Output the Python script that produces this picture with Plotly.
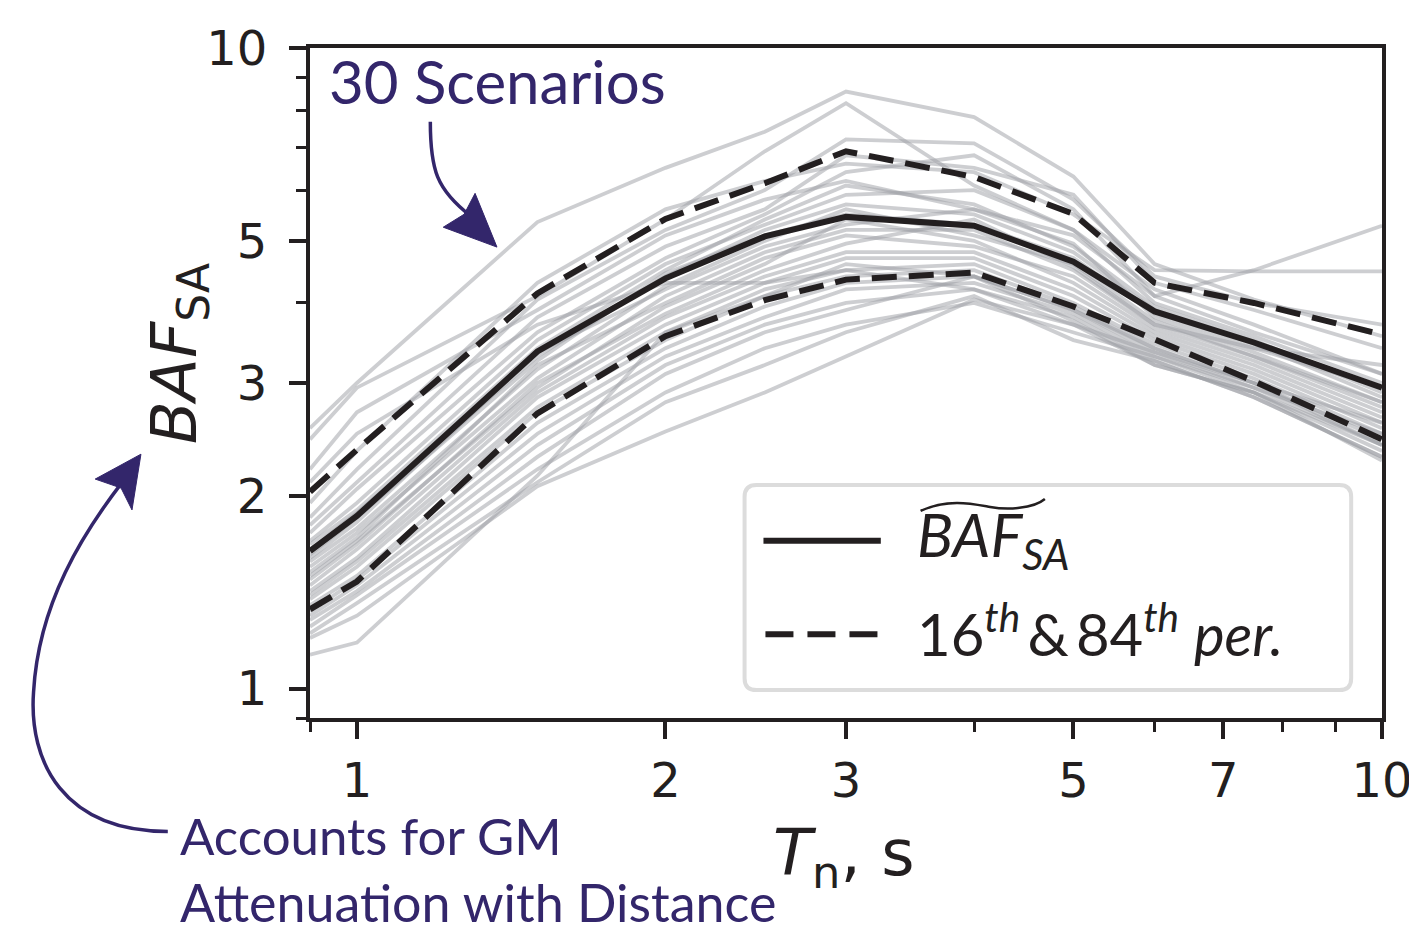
import plotly.graph_objects as go

# ---------------- data ----------------
periods = [0.9, 1, 1.5, 2, 2.5, 3, 4, 5, 6, 7.5, 10]

scenarios = [
    [2.55, 3.00, 5.35, 6.50, 7.40, 8.55, 7.80, 6.30, 4.60, 4.05, 3.55],
    [2.45, 2.95, 4.10, 5.40, 6.90, 8.20, 6.10, 5.20, 4.20, 3.70, 3.10],
    [2.20, 2.70, 3.90, 5.10, 5.80, 6.20, 5.60, 5.10, 4.10, 4.50, 5.28],
    [1.95, 2.35, 4.30, 5.60, 6.20, 6.60, 6.40, 5.50, 4.50, 4.48, 4.48],
    [1.85, 2.20, 4.05, 5.20, 6.00, 7.20, 7.10, 5.80, 4.40, 4.00, 3.70],
    [1.80, 2.10, 3.80, 4.90, 5.60, 6.80, 6.50, 5.90, 4.30, 3.90, 3.40],
    [1.75, 2.05, 3.60, 4.70, 5.50, 6.40, 6.80, 5.60, 4.10, 3.60, 3.10],
    [1.70, 1.95, 3.50, 4.60, 5.30, 5.90, 6.00, 5.20, 4.00, 3.55, 3.00],
    [1.68, 1.90, 3.40, 4.50, 5.40, 6.10, 5.70, 4.90, 3.95, 3.50, 2.90],
    [1.65, 1.88, 3.30, 4.40, 5.20, 5.70, 5.50, 4.80, 3.90, 3.45, 2.85],
    [1.62, 1.85, 3.25, 4.45, 5.10, 5.50, 5.30, 4.70, 3.85, 3.40, 2.95],
    [1.60, 1.82, 3.35, 4.20, 4.90, 5.30, 5.60, 4.95, 3.80, 3.35, 2.80],
    [1.58, 1.78, 3.15, 4.25, 5.00, 5.60, 5.10, 4.60, 3.75, 3.30, 2.75],
    [1.55, 1.75, 3.05, 4.10, 4.80, 5.20, 5.20, 4.50, 3.70, 3.40, 3.20],
    [1.52, 1.72, 3.20, 4.00, 4.70, 5.10, 4.90, 4.40, 3.65, 3.25, 2.70],
    [1.50, 1.70, 2.95, 3.95, 4.60, 5.40, 5.00, 4.30, 3.60, 3.20, 2.65],
    [1.48, 1.68, 3.00, 3.85, 4.50, 4.95, 5.40, 4.55, 3.70, 3.30, 2.80],
    [1.45, 1.65, 2.90, 3.80, 4.40, 4.80, 4.80, 4.20, 3.55, 3.15, 2.60],
    [1.42, 1.60, 2.85, 3.70, 4.30, 4.70, 4.70, 4.10, 3.50, 3.10, 2.55],
    [1.40, 1.58, 2.75, 3.60, 4.20, 4.50, 4.60, 4.00, 3.45, 3.05, 2.50],
    [1.38, 1.55, 2.70, 3.50, 4.10, 4.40, 4.50, 3.95, 3.40, 3.00, 2.45],
    [1.35, 1.50, 2.60, 3.40, 3.95, 4.30, 4.40, 3.90, 3.35, 2.95, 2.40],
    [1.32, 1.48, 2.50, 3.30, 3.80, 4.20, 4.30, 3.85, 3.30, 2.90, 2.35],
    [1.30, 1.45, 2.40, 3.20, 3.70, 4.00, 4.20, 3.80, 3.25, 2.85, 2.30],
    [1.28, 1.42, 2.30, 3.10, 3.60, 3.90, 4.40, 3.75, 3.20, 2.90, 2.40],
    [1.25, 1.40, 2.20, 2.90, 3.40, 3.70, 4.00, 3.60, 3.30, 2.95, 2.50],
    [1.22, 1.36, 2.10, 2.80, 3.20, 3.60, 4.10, 3.50, 3.25, 2.85, 2.30],
    [1.20, 1.30, 2.07, 2.52, 2.90, 3.30, 4.05, 3.70, 3.35, 3.00, 2.60],
    [1.13, 1.18, 2.15, 3.60, 4.10, 4.60, 4.40, 3.90, 3.40, 3.00, 2.40],
    [2.10, 2.50, 3.70, 4.30, 4.30, 4.50, 4.20, 3.70, 3.20, 2.90, 2.27],
]

median = [1.64, 1.86, 3.36, 4.37, 5.08, 5.45, 5.28, 4.64, 3.88, 3.47, 2.95]
p84 = [2.03, 2.36, 4.14, 5.41, 6.15, 6.90, 6.29, 5.51, 4.30, 4.00, 3.57]
p16 = [1.33, 1.47, 2.69, 3.55, 4.04, 4.35, 4.46, 3.95, 3.51, 3.02, 2.45]

x_ticks = [1, 2, 3, 5, 7, 10]
x_minor = [0.9, 4, 6, 8, 9]
y_ticks = [1, 2, 3, 5, 10]
y_minor = [0.9, 4, 6, 7, 8, 9]

# ---------------- layout helpers ----------------
W, H = 1417, 938
L, R, T, B = 308, 1386, 43, 716       # target plot-area pixels
OX, OY = 6, 6                          # page offset compensation
INK = "#231f20"
PURPLE = "#33266b"


def px(x):
    return (x - L) / (R - L)


def py(y):
    return (B - y) / (B - T)


fig = go.Figure()

for s in scenarios:
    fig.add_trace(go.Scatter(x=periods, y=s, mode="lines",
                             line=dict(color="rgba(160,162,166,0.52)", width=3.8),
                             hoverinfo="skip", showlegend=False))

for band in (p84, p16):
    fig.add_trace(go.Scatter(x=periods, y=band, mode="lines",
                             line=dict(color=INK, width=6, dash="25px,12px"),
                             showlegend=False))
fig.add_trace(go.Scatter(x=periods, y=median, mode="lines",
                         line=dict(color=INK, width=6), showlegend=False))

tickfont = dict(family="DejaVu Sans", size=48, color=INK)
axis_common = dict(type="log", showgrid=False, zeroline=False, showline=True,
                   mirror=True, linecolor=INK, linewidth=4, ticks="outside",
                   ticklen=17, tickwidth=3.5, tickcolor=INK, tickfont=tickfont)

fig.update_xaxes(range=[-0.045757, 1.0], tickvals=x_ticks,
                 ticktext=[str(v) for v in x_ticks],
                 minor=dict(tickvals=x_minor, ticklen=10, tickwidth=3, tickcolor=INK,
                            ticks="outside"),
                 ticklabelstandoff=0, **axis_common)
fig.update_yaxes(range=[-0.045757, 1.0], tickvals=y_ticks,
                 ticktext=[str(v) for v in y_ticks],
                 minor=dict(tickvals=y_minor, ticklen=10, tickwidth=3, tickcolor=INK,
                            ticks="outside"),
                 ticklabelstandoff=12, **axis_common)

shapes = []
# legend box (rounded)
x0, y0, x1, y1, r = 745, 482, 1355, 688, 12
box = (f"M {px(x0+r)},{py(y0)} L {px(x1-r)},{py(y0)} "
       f"Q {px(x1)},{py(y0)} {px(x1)},{py(y0+r)} L {px(x1)},{py(y1-r)} "
       f"Q {px(x1)},{py(y1)} {px(x1-r)},{py(y1)} L {px(x0+r)},{py(y1)} "
       f"Q {px(x0)},{py(y1)} {px(x0)},{py(y1-r)} L {px(x0)},{py(y0+r)} "
       f"Q {px(x0)},{py(y0)} {px(x0+r)},{py(y0)} Z")
shapes.append(dict(type="path", xref="paper", yref="paper", path=box,
                   fillcolor="white", line=dict(color="#dcdcdc", width=4), layer="above"))
shapes.append(dict(type="line", xref="paper", yref="paper",
                   x0=px(764), x1=px(882), y0=py(538), y1=py(538),
                   line=dict(color=INK, width=6), layer="above"))
shapes.append(dict(type="line", xref="paper", yref="paper",
                   x0=px(766), x1=px(880), y0=py(632), y1=py(632),
                   line=dict(color=INK, width=6, dash="28px,14px"), layer="above"))
# wide tilde over BAF
tilde = (f"M {px(922)},{py(508)} C {px(950)},{py(495)} {px(975)},{py(501)} {px(992)},{py(504)} "
         f"S {px(1035)},{py(506)} {px(1047)},{py(496)}")
shapes.append(dict(type="path", xref="paper", yref="paper", path=tilde,
                   line=dict(color=INK, width=2.5), layer="above"))

# arrow 1: "30 Scenarios"
a1 = (f"M {px(429)},{py(117)} C {px(429)},{py(165)} {px(435)},{py(185)} {px(470)},{py(212)}")
shapes.append(dict(type="path", xref="paper", yref="paper", path=a1,
                   line=dict(color=PURPLE, width=3.5)))
h1 = f"M {px(496)},{py(243)} L {px(442)},{py(223)} L {px(463)},{py(210)} L {px(474)},{py(189)} Z"
shapes.append(dict(type="path", xref="paper", yref="paper", path=h1,
                   fillcolor=PURPLE, line=dict(color=PURPLE, width=1)))

# arrow 2: "Accounts for GM ..."
a2 = (f"M {px(165)},{py(830)} C {px(60)},{py(830)} {px(25)},{py(760)} {px(30)},{py(690)} "
      f"C {px(35)},{py(600)} {px(80)},{py(530)} {px(120)},{py(478)}")
shapes.append(dict(type="path", xref="paper", yref="paper", path=a2,
                   line=dict(color=PURPLE, width=3.5)))
h2 = f"M {px(138)},{py(451)} L {px(129)},{py(507)} L {px(118)},{py(485)} L {px(92)},{py(476)} Z"
shapes.append(dict(type="path", xref="paper", yref="paper", path=h2,
                   fillcolor=PURPLE, line=dict(color=PURPLE, width=1)))

annotations = [
    dict(text="30 Scenarios", x=px(325), y=py(76), xanchor="left", yanchor="middle",
         font=dict(family="Lato", size=60, color=PURPLE)),
    dict(text="Accounts for GM", x=px(175), y=py(834), xanchor="left", yanchor="middle",
         font=dict(family="Lato", size=51, color=PURPLE)),
    dict(text="Attenuation with Distance", x=px(175), y=py(901), xanchor="left",
         yanchor="middle", font=dict(family="Lato", size=52, color=PURPLE)),
    dict(text="<i>BAF</i><sub>SA</sub>", x=px(176), y=py(350), textangle=-90,
         xanchor="center", yanchor="middle",
         font=dict(family="DejaVu Sans", size=63, color=INK)),
    dict(text="<i>T</i><sub>n</sub>, s", x=px(845), y=py(856), xanchor="center",
         yanchor="middle", font=dict(family="DejaVu Sans", size=64, color=INK)),
    dict(text="<i>BAF</i><sub><i>SA</i></sub>", x=px(916), y=py(536), xanchor="left",
         yanchor="middle", font=dict(family="Lato", size=60, color=INK)),
    dict(text="16<sup><i>th</i></sup>\u2009&amp;\u200984<sup><i>th</i></sup> <i>per.</i>",
         x=px(916), y=py(628), xanchor="left", yanchor="middle",
         font=dict(family="Lato", size=58, color=INK)),
]
for a in annotations:
    a.update(xref="paper", yref="paper", showarrow=False)

fig.update_layout(width=W, height=H,
                  margin=dict(l=L - OX, r=W - (R - OX), t=T - OY, b=H - (B - OY)),
                  plot_bgcolor="white", paper_bgcolor="white",
                  shapes=shapes, annotations=annotations, showlegend=False)

fig.write_html("out.html")
